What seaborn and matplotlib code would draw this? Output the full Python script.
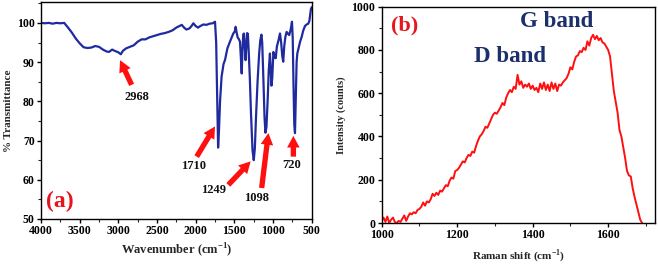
import numpy as np
import pandas as pd
import matplotlib
matplotlib.use("Agg")
import matplotlib.pyplot as plt
import seaborn as sns
from matplotlib.ticker import MultipleLocator

# ---------------- FTIR data (panel a) ----------------
ftir_wn = [4000, 3950, 3900, 3850, 3800, 3750, 3700, 3650, 3600, 3550, 3500, 3450, 3400, 3350,
           3300, 3250, 3200, 3150, 3120, 3080, 3050, 3000, 2968, 2940, 2900, 2850, 2800, 2750,
           2700, 2650, 2600, 2550, 2500, 2450, 2400, 2350, 2300, 2250, 2200, 2180, 2150, 2120,
           2080, 2050, 2030, 2000, 1970, 1940, 1900, 1860, 1820, 1780, 1750, 1735, 1720, 1710,
           1700, 1685, 1665, 1640, 1620, 1590, 1557, 1530, 1514, 1495, 1483, 1470, 1457, 1440,
           1427, 1415, 1405, 1395, 1385, 1376, 1365, 1355, 1345, 1335, 1325, 1315, 1300, 1285,
           1265, 1249, 1235, 1220, 1200, 1180, 1165, 1150, 1140, 1125, 1110, 1098, 1085, 1070,
           1055, 1040, 1030, 1020, 1010, 995, 980, 965, 950, 930, 910, 895, 880, 868, 855, 840,
           824, 805, 790, 770, 755, 745, 735, 725, 716, 705, 695, 686, 670, 650, 630, 610, 587,
           565, 544, 530, 520, 510, 500]
ftir_t = [100.0, 99.9, 100.0, 99.8, 100.0, 99.9, 100.0, 98.8, 97.5, 96.0, 94.8, 93.8, 93.6, 93.7,
          94.1, 93.9, 93.2, 92.7, 92.6, 93.2, 92.9, 92.5, 92.0, 92.9, 93.5, 93.9, 94.3, 95.2,
          95.8, 95.8, 96.3, 96.6, 96.9, 97.2, 97.4, 97.7, 98.1, 98.8, 99.3, 99.5, 98.8, 98.3,
          98.6, 99.3, 99.9, 99.2, 98.8, 99.2, 99.6, 99.5, 99.8, 99.9, 100.3, 95.0, 78.0, 68.2,
          72.0, 80.0, 86.3, 89.5, 90.6, 93.5, 95.2, 96.5, 97.3, 97.8, 99.0, 97.5, 96.3, 95.8,
          95.2, 91.0, 87.1, 93.0, 97.0, 97.3, 94.0, 90.5, 94.0, 97.4, 97.2, 93.0, 86.0, 77.0,
          67.5, 65.0, 68.0, 76.0, 85.0, 92.0, 95.5, 97.0, 95.0, 86.0, 76.0, 72.0, 73.5, 80.0,
          88.0, 92.2, 88.0, 84.0, 86.0, 92.6, 91.2, 91.0, 94.0, 95.5, 97.3, 95.0, 91.5, 90.1,
          94.0, 96.5, 97.7, 97.2, 96.9, 98.5, 100.3, 96.0, 84.0, 74.0, 71.9, 82.0, 90.0, 92.2,
          93.5, 95.2, 96.4, 98.0, 99.2, 99.6, 99.8, 100.5, 102.0, 103.5, 104.0]

ftir_peaks = ["2968", "1710", "1249", "1098", "720"]

# ---------------- Raman data (panel b) ----------------
raman_shift = list(range(1000, 1695, 5))
raman_int = [10, 25, 5, 30, 0, 15, 25, 5, 0, 10, 5, 20, 35, 10, 30, 45, 40, 50, 45, 60,
             65, 75, 95, 80, 100, 95, 110, 135, 125, 140, 130, 150, 145, 160, 175, 170, 195,
             210, 205, 240, 245, 255, 270, 285, 280, 300, 315, 310, 330, 325, 355, 380, 400,
             410, 425, 445, 440, 460, 480, 500, 510, 505, 520, 535, 555, 545, 580, 600, 615,
             605, 630, 620, 685, 640, 655, 625, 640, 630, 645, 620, 635, 615, 625, 605, 645,
             620, 650, 615, 640, 610, 650, 620, 645, 610, 640, 635, 650, 660, 670, 690, 720,
             710, 745, 770, 775, 795, 790, 810, 800, 840, 820, 855, 870, 850, 865, 845, 855,
             835, 830, 815, 800, 770, 690, 610, 560, 510, 430, 400, 350, 300, 240, 220, 215,
             160, 120, 85, 50, 15, 0]

df_ftir = pd.DataFrame({"wn": ftir_wn, "T": ftir_t})
df_raman = pd.DataFrame({"shift": raman_shift, "I": raman_int})

sns.set_theme(style="ticks")
plt.rcParams["font.family"] = ["Liberation Serif", "DejaVu Serif"]
plt.rcParams["font.weight"] = "bold"
plt.rcParams["axes.labelweight"] = "bold"
plt.rcParams["axes.linewidth"] = 1.0
plt.rcParams["xtick.direction"] = "out"
plt.rcParams["ytick.direction"] = "out"
plt.rcParams["mathtext.fontset"] = "custom"
plt.rcParams["mathtext.rm"] = "Liberation Serif:bold"
plt.rcParams["mathtext.bf"] = "Liberation Serif:bold"

fig = plt.figure(figsize=(6.58, 2.64), dpi=100)
ax1 = fig.add_axes([0.0623, 0.1705, 0.4114, 0.8215])
ax2 = fig.add_axes([0.580, 0.1553, 0.4154, 0.8193])

BLUE = "#1f2a9e"
RED = "#ff1010"
NAVY = "#1b2f6b"

# ---- panel a ----
sns.lineplot(data=df_ftir, x="wn", y="T", ax=ax1, color=BLUE, lw=1.6, sort=False)
ax1.set_xlim(4000, 500)
ax1.set_ylim(50, 105.3)
ax1.xaxis.set_major_locator(MultipleLocator(500))
ax1.xaxis.set_minor_locator(MultipleLocator(250))
ax1.yaxis.set_major_locator(MultipleLocator(10))
ax1.yaxis.set_minor_locator(MultipleLocator(5))
ax1.set_xlabel("Wavenumber (cm$^{\\mathbf{-1}}$)", fontsize=9, fontweight="bold", labelpad=3)
ax1.set_ylabel("% Transmittance", fontsize=8, fontweight="bold", labelpad=3)

ann = [  # text pos, arrow tail, arrow head
    ((2763, 81.2), (2828, 84.2), (2978, 90.5)),
    ((2030, 63.4), (1987, 65.9), (1750, 73.6)),
    ((1772, 57.3), (1578, 58.7), (1289, 64.7)),
    ((1211, 55.3), (1147, 57.9), (1060, 71.9)),
    ((759, 63.8), (737, 65.9), (737, 71.2)),
]
for lab, (tp, tail, head) in zip(ftir_peaks, ann):
    ax1.annotate("", xy=head, xytext=tail,
                 arrowprops=dict(arrowstyle="simple,head_width=0.75,head_length=0.7,tail_width=0.32",
                                 color=RED, lw=0, shrinkA=0, shrinkB=0))
    ax1.text(tp[0], tp[1], lab, fontsize=9, fontweight="bold", color="#111111",
             ha="center", va="center")
ax1.text(3754, 54.5, "(a)", fontsize=17, fontweight="bold", color="#e8141c", ha="center", va="center")

# ---- panel b ----
sns.lineplot(data=df_raman, x="shift", y="I", ax=ax2, color=RED, lw=1.4)
ax2.set_xlim(1000, 1724)
ax2.set_ylim(0, 1000)
ax2.xaxis.set_major_locator(MultipleLocator(200))
ax2.xaxis.set_minor_locator(MultipleLocator(100))
ax2.yaxis.set_major_locator(MultipleLocator(200))
ax2.yaxis.set_minor_locator(MultipleLocator(100))
ax2.set_xlabel("Raman shift (cm$^{\\mathbf{-1}}$)", fontsize=8, fontweight="bold", labelpad=4)
ax2.set_ylabel("Intensity (counts)", fontsize=7.5, fontweight="bold", labelpad=4)
ax2.text(1062, 915, "(b)", fontsize=16, fontweight="bold", color="#e8141c", ha="center", va="center")
ax2.text(1463, 931, "G band", fontsize=16.5, fontweight="bold", color=NAVY, ha="center", va="center")
ax2.text(1340, 769, "D band", fontsize=16.5, fontweight="bold", color=NAVY, ha="center", va="center")

for ax in (ax1, ax2):
    for s in ax.spines.values():
        s.set_visible(True)
        s.set_color("black")
    ax.tick_params(which="major", length=3, width=1, labelsize=8.5, pad=1.5, colors="black")
    ax.tick_params(which="minor", length=2, width=0.8)
    for t in ax.get_xticklabels() + ax.get_yticklabels():
        t.set_fontweight("bold")

fig.savefig("out.png", dpi=100)
